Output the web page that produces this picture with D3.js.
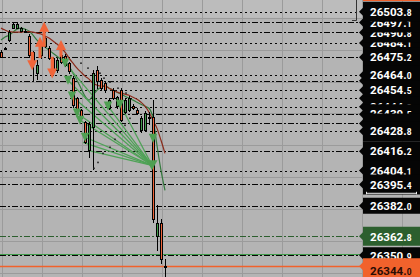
<!DOCTYPE html>
<html>
<head>
<meta charset="utf-8">
<script src="https://cdn.jsdelivr.net/npm/d3@7"></script>
<style>
  html, body { margin: 0; padding: 0; background: #b4b4b4; }
  svg { display: block; }
</style>
</head>
<body>
<div id="chart"></div>
<script>
// ---- candles (bar index 0..41) ----
var candleOpen  = [26478.4, 26481.0, 26486.0, 26493.5, 26493.5, 26491.7, 26492.0, 26488.5, 26478.4, 26465.2,
                   26476.6, 26482.0, 26481.0, 26474.7, 26467.1, 26476.6, 26475.9, 26471.5, 26462.1, 26449.5,
                   26442.0, 26434.4, 26416.8, 26431.3, 26467.1, 26461.0, 26458.9, 26443.2, 26454.5, 26444.5,
                   26454.5, 26440.7, 26441.9, 26444.5, 26441.9, 26429.4, 26429.4, 26437.0, 26437.6, 26363.3,
                   26371.5, 26344.5];
var candleHigh  = [26479.7, 26481.6, 26492.3, 26497.0, 26496.8, 26494.2, 26492.8, 26489.8, 26479.1, 26473.4,
                   26484.0, 26488.5, 26482.2, 26475.3, 26474.7, 26477.8, 26477.2, 26472.2, 26463.4, 26450.1,
                   26443.0, 26435.0, 26434.4, 26467.1, 26469.6, 26462.1, 26459.6, 26449.5, 26455.8, 26451.0,
                   26455.8, 26449.5, 26451.0, 26445.7, 26443.2, 26438.2, 26441.3, 26441.0, 26448.2, 26382.2,
                   26374.0, 26348.8];
var candleLow   = [26475.0, 26480.4, 26484.7, 26493.0, 26492.9, 26491.0, 26490.4, 26475.3, 26459.6, 26460.8,
                   26474.0, 26481.0, 26473.4, 26463.4, 26465.2, 26470.9, 26469.0, 26464.6, 26443.2, 26439.4,
                   26435.7, 26420.6, 26412.0, 26404.2, 26455.2, 26454.5, 26453.0, 26442.0, 26448.2, 26443.0,
                   26434.4, 26439.4, 26440.7, 26441.9, 26438.8, 26427.5, 26428.0, 26433.0, 26371.5, 26353.9,
                   26345.7, 26335.0];
var candleClose = [26475.5, 26481.0, 26491.0, 26496.1, 26496.1, 26493.5, 26491.0, 26476.6, 26471.5, 26470.3,
                   26482.9, 26487.3, 26474.7, 26465.9, 26473.4, 26472.2, 26470.3, 26466.5, 26445.1, 26440.7,
                   26436.9, 26421.8, 26433.2, 26465.2, 26460.2, 26455.8, 26454.5, 26448.2, 26449.5, 26450.1,
                   26435.7, 26448.2, 26449.5, 26443.2, 26440.1, 26436.9, 26440.1, 26438.0, 26374.0, 26370.9,
                   26348.8, 26344.0];

// moving averages, one value per bar
var maSlow = [26493.5, 26492.3, 26491.3, 26491.0, 26491.0, 26491.0, 26491.3, 26491.3, 26491.0, 26490.4,
              26489.8, 26488.5, 26487.3, 26485.4, 26483.5, 26481.0, 26478.5, 26474.7, 26471.5, 26468.4,
              26465.9, 26463.4, 26461.5, 26458.9, 26457.7, 26457.1, 26457.1, 26455.8, 26454.5, 26453.3,
              26452.7, 26452.0, 26451.4, 26450.1, 26448.9, 26447.0, 26444.5, 26440.7, 26435.7, 26430.6,
              26423.1, 26414.9];
var maFast = [26486.0, 26487.9, 26489.1, 26491.0, 26492.9, 26493.5, 26492.9, 26491.7, 26489.1, 26486.0,
              26483.5, 26481.6, 26479.7, 26477.8, 26475.9, 26474.0, 26472.2, 26469.6, 26465.2, 26460.8,
              26455.8, 26450.8, 26448.3, 26451.4, 26454.5, 26456.4, 26457.1, 26455.8, 26454.5, 26453.3,
              26452.0, 26450.8, 26449.5, 26448.3, 26447.0, 26445.7, 26444.5, 26443.2, 26436.9, 26419.9,
              26404.2, 26391.6];

// green down markers (bar position, price) and the point the fan converges to
var sigIdx   = [16.0, 16.75, 17.75, 19.0, 19.75, 21.0, 26.75, 29.75, 38.0];
var sigPrice = [26471.5, 26460.8, 26450.8, 26440.1, 26435.7, 26425.0, 26444.5, 26445.7, 26424.3];
var fanExtraIdx   = [20.5, 21.75];
var fanExtraPrice = [26421.8, 26416.8];
var fanEnd = { idx: 37.75, price: 26407.4 };

// orange arrows: bar position, tip price, tail price, direction
var arrowIdx  = [10.8, 9.75, 15.0, 7.8, 12.8];
var arrowTip  = [26497.5, 26488.1, 26486.0, 26467.1, 26461.9];
var arrowTail = [26481.8, 26474.7, 26475.5, 26478.6, 26475.5];
var arrowDir  = ["up", "up", "up", "down", "down"];

// small dark dots
var dotIdx   = [20, 21.75, 24.75, 25.75, 27.25, 29.25, 31.25, 23.25, 24.25, 25.5, 27.25, 28.5, 29.75, 31, 32.25];
var dotPrice = [26471.5, 26468.4, 26465.2, 26462.1, 26459.6, 26455.8, 26452.7,
                26405.5, 26409.2, 26414.9, 26418.7, 26423.7, 26428.1, 26432.5, 26436.9];

// horizontal levels, listed in drawing order of their price tags
var levelPrice = [26484.1, 26490.8, 26497.1, 26503.8, 26475.2, 26460.4, 26464.0, 26449.5, 26454.5, 26444.2,
                  26439.5, 26433.7, 26428.8, 26416.2, 26404.1, 26395.4, 26382.0, 26362.8, 26350.9, 26344.0];
var levelStyle = ["dot", "dashdot", "dashdot", "dot", "dashdot", "dashdot", "dot", "dot", "dot", "dot",
                  "dashdot", "dashdot", "dot", "dashdot", "dot", "dashdot", "dashdot", "dashdot", "dashdot", "solid"];
var levelColor = ["black", "black", "black", "black", "black", "black", "black", "black", "black", "black",
                  "black", "black", "black", "black", "black", "black", "black", "green", "black", "orange"];
// tags whose text is entirely hidden under neighbours
var levelHidden = [26460.4, 26449.5, 26433.7];
var extraLinePrice = 26351.7;

const W = 420, H = 277;
const colors = {
  bg: "#b4b4b4", band: "#bcbcbc", grid: "#9b9b9b",
  red: "#f0653a", green: "#3f9a4a", sig: "#4f9f52", fan: "#4fa257",
  maSlow: "#8a2c1c", maFast: "#347a3e",
  black: "#050505", darkgreen: "#2c5f2e", orange: "#f1622c"
};

const x = d3.scaleLinear().domain([0, 41]).range([1, 165]);
const y = d3.scaleLinear().domain([26337.3, 26511.16]).range([H, 0]);

const svg = d3.select("#chart").append("svg").attr("width", W).attr("height", H);

svg.append("rect").attr("width", W).attr("height", H).attr("fill", colors.bg);
svg.append("rect").attr("width", W).attr("height", y(26500)).attr("fill", colors.band);

// grid: every 20 points, every 10 bars
const gridG = svg.append("g").attr("shape-rendering", "crispEdges");
gridG.selectAll("line.h")
  .data(d3.range(26340, 26511, 20))
  .enter().append("line")
  .attr("x1", 0).attr("x2", W)
  .attr("y1", (d) => Math.round(y(d)) + 0.5).attr("y2", (d) => Math.round(y(d)) + 0.5)
  .attr("stroke", colors.grid);
gridG.selectAll("line.v")
  .data(d3.range(0.2, 105, 10))
  .enter().append("line")
  .attr("y1", 0).attr("y2", H)
  .attr("x1", (d) => Math.round(x(d)) + 0.5).attr("x2", (d) => Math.round(x(d)) + 0.5)
  .attr("stroke", colors.grid);

const levels = levelPrice.map((p, i) => ({ price: p, style: levelStyle[i], color: levelColor[i] }));

function lineColor(c) {
  if (c === "green") return colors.darkgreen;
  if (c === "orange") return colors.orange;
  return colors.black;
}
function dashFor(s) {
  if (s === "dot") return "2,3";
  if (s === "dashdot") return "6,2,2,2";
  return null;
}

// level lines
svg.append("g").selectAll("line")
  .data(levels)
  .enter().append("line")
  .attr("x1", 0).attr("x2", 360)
  .attr("y1", (d) => Math.round(y(d.price)) + 0.5)
  .attr("y2", (d) => Math.round(y(d.price)) + 0.5)
  .attr("stroke", (d) => lineColor(d.color))
  .attr("stroke-width", (d) => (d.style === "solid" ? 1.5 : 1))
  .attr("stroke-dasharray", (d) => dashFor(d.style));
svg.append("line")
  .attr("x1", 0).attr("x2", 360)
  .attr("y1", Math.round(y(extraLinePrice)) + 0.5).attr("y2", Math.round(y(extraLinePrice)) + 0.5)
  .attr("stroke", colors.green).attr("stroke-width", 1);

// moving averages
const maLine = d3.line().x((d, i) => x(i)).y((d) => y(d)).curve(d3.curveMonotoneX);
svg.append("path").datum(maFast).attr("d", maLine)
  .attr("fill", "none").attr("stroke", colors.maFast).attr("stroke-width", 1.2);
svg.append("path").datum(maSlow).attr("d", maLine)
  .attr("fill", "none").attr("stroke", colors.maSlow).attr("stroke-width", 1.2);

// fan lines
const fanStarts = sigIdx.slice(0, 8).map((d, i) => ({ idx: d, price: sigPrice[i] }))
  .concat(fanExtraIdx.map((d, i) => ({ idx: d, price: fanExtraPrice[i] })));
svg.append("g").selectAll("line")
  .data(fanStarts)
  .enter().append("line")
  .attr("x1", (d) => x(d.idx)).attr("y1", (d) => y(d.price))
  .attr("x2", x(fanEnd.idx)).attr("y2", y(fanEnd.price))
  .attr("stroke", colors.fan).attr("stroke-width", 1.3);

// candles
const candles = candleOpen.map((o, i) => ({
  i: i, o: o, h: candleHigh[i], l: candleLow[i], c: candleClose[i]
}));
const cg = svg.append("g").attr("shape-rendering", "crispEdges");
candles.forEach(function (d) {
  const cx = Math.round(x(d.i));
  cg.append("line")
    .attr("x1", cx + 0.5).attr("x2", cx + 0.5)
    .attr("y1", Math.round(y(d.h))).attr("y2", Math.round(y(d.l)))
    .attr("stroke", "#000");
  const top = Math.round(y(Math.max(d.o, d.c)));
  const bot = Math.round(y(Math.min(d.o, d.c)));
  cg.append("rect")
    .attr("x", cx - 0.5).attr("width", 2)
    .attr("y", top + 0.5).attr("height", Math.max(1, bot - top))
    .attr("fill", d.c >= d.o ? colors.green : colors.red)
    .attr("stroke", "#000");
});

// dots
svg.append("g").selectAll("rect")
  .data(dotIdx.map((d, i) => ({ idx: d, price: dotPrice[i] })))
  .enter().append("rect")
  .attr("x", (d) => x(d.idx) - 0.8).attr("y", (d) => y(d.price) - 0.8)
  .attr("width", 1.6).attr("height", 1.6)
  .attr("fill", "#222");

// green down markers
function tri(cx, cy, w, h) {
  return `M${cx - w},${cy - h}L${cx + w},${cy - h}L${cx},${cy + h}Z`;
}
svg.append("g").selectAll("path")
  .data(sigIdx.map((d, i) => ({ idx: d, price: sigPrice[i] })))
  .enter().append("path")
  .attr("d", (d) => tri(x(d.idx), y(d.price), 4.2, 4.6))
  .attr("fill", colors.sig);
svg.append("path")
  .attr("d", tri(x(fanEnd.idx), y(fanEnd.price), 5.5, 5))
  .attr("fill", colors.sig);

// orange arrows
const ag = svg.append("g");
arrowIdx.forEach(function (a, i) {
  const ax = x(a), ty = y(arrowTip[i]), tl = y(arrowTail[i]);
  const s = arrowDir[i] === "up" ? 1 : -1;
  ag.append("line")
    .attr("x1", ax).attr("x2", ax)
    .attr("y1", ty + s * 6).attr("y2", tl)
    .attr("stroke", colors.red).attr("stroke-width", 3);
  ag.append("path")
    .attr("d", `M${ax},${ty}L${ax - 5},${ty + s * 10}L${ax + 5},${ty + s * 10}Z`)
    .attr("fill", colors.red);
});

// price tags on the right
function tagFill(c) {
  if (c === "green") return colors.darkgreen;
  if (c === "orange") return colors.orange;
  return colors.black;
}
const tags = svg.append("g");
levels.forEach(function (d) {
  const ty = y(d.price);
  // crowded tags are taller; the lone lower ones are slimmer
  let up = 10, down = 10, shift = 0;
  if (d.color === "green") { up = 9.5; down = 9.5; }
  else if (d.color === "orange") { up = 8; down = 14; shift = 4; }
  else if (d.price < 26390) { up = 8; down = 8; }
  const g = tags.append("g");
  g.append("path")
    .attr("d", `M359,${ty}L363,${ty - 4}L363,${ty - up}L${W},${ty - up}L${W},${ty + down}L363,${ty + down}L363,${ty + 4}Z`)
    .attr("fill", tagFill(d.color));
  if (levelHidden.indexOf(d.price) >= 0) return;
  const str = d.price.toFixed(1);
  const t = g.append("text")
    .attr("x", 370).attr("y", ty + 4.2 + shift)
    .attr("fill", d.color === "orange" ? "#2a0c04" : "#fff")
    .attr("font-family", "Roboto, 'Liberation Sans', sans-serif")
    .attr("font-weight", 700);
  t.append("tspan").attr("font-size", 11.6).text(str.slice(0, -1));
  t.append("tspan").attr("font-size", 8.4).text(str.slice(-1));
});

// small extras along the price column
svg.append("path")
  .attr("d", "M356.5,0V20.5H352")
  .attr("fill", "none").attr("stroke", "#333");
svg.append("path")
  .attr("d", `M366.5,${y(26382.0) - 14}V${y(26382.0) - 11.5}M366.5,${y(26382.0) - 12.5}H416.5M416.5,${y(26382.0) - 14}V${y(26382.0) - 11.5}`)
  .attr("fill", "none").attr("stroke", "#eee");
svg.append("line")
  .attr("x1", 363).attr("x2", W).attr("y1", 0.5).attr("y2", 0.5)
  .attr("stroke", colors.orange);
</script>
</body>
</html>
